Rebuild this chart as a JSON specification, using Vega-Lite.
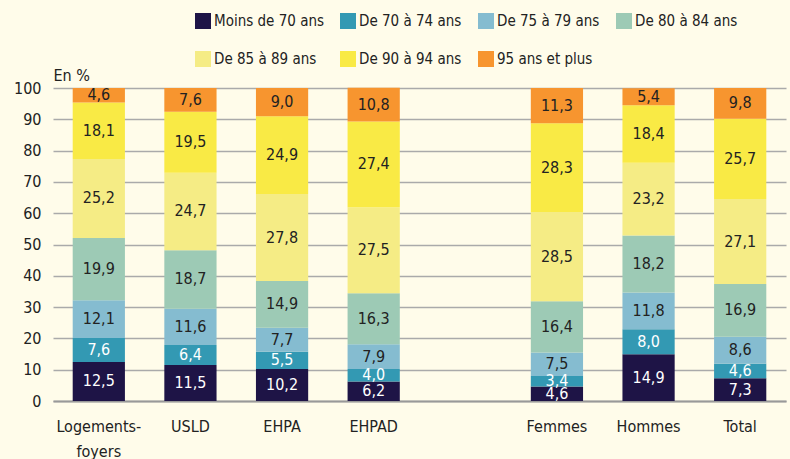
{
 "$schema": "https://vega.github.io/schema/vega-lite/v6.json",
 "width": 733, "height": 313,
 "autosize": {"type": "none"},
 "padding": {"left": 53, "top": 88, "right": 4, "bottom": 58},
 "background": "#FFFCEA",
 "config": {"view": {"stroke": null}, "font": "DejaVu Sans Condensed, Liberation Sans, sans-serif",
   "locale": {"number": {"decimal": ",", "thousands": " ", "grouping": [3], "currency": ["", " €"]}},
   "axisY": {"title": "En %", "titleAngle": 0, "titleX": 0, "titleY": -8, "titleAlign": "left", "titleBaseline": "alphabetic", "titleFontSize": 16, "titleFontWeight": "normal", "titleColor": "#222",
       "values": [0, 10, 20, 30, 40, 50, 60, 70, 80, 90, 100], "format": "d", "labelFontSize": 16, "labelColor": "#222", "labelPadding": 12, "labelOverlap": false, "ticks": false, "domain": false, "gridColor": "#aaaaaa", "gridWidth": 1.5}},
 "data": {"values": [
  {"cat":"Logements-foyers","age":"Moins de 70 ans","o":1,"v":12.5},
  {"cat":"Logements-foyers","age":"De 70 à 74 ans","o":2,"v":7.6},
  {"cat":"Logements-foyers","age":"De 75 à 79 ans","o":3,"v":12.1},
  {"cat":"Logements-foyers","age":"De 80 à 84 ans","o":4,"v":19.9},
  {"cat":"Logements-foyers","age":"De 85 à 89 ans","o":5,"v":25.2},
  {"cat":"Logements-foyers","age":"De 90 à 94 ans","o":6,"v":18.1},
  {"cat":"Logements-foyers","age":"95 ans et plus","o":7,"v":4.6},
  {"cat":"USLD","age":"Moins de 70 ans","o":1,"v":11.5},
  {"cat":"USLD","age":"De 70 à 74 ans","o":2,"v":6.4},
  {"cat":"USLD","age":"De 75 à 79 ans","o":3,"v":11.6},
  {"cat":"USLD","age":"De 80 à 84 ans","o":4,"v":18.7},
  {"cat":"USLD","age":"De 85 à 89 ans","o":5,"v":24.7},
  {"cat":"USLD","age":"De 90 à 94 ans","o":6,"v":19.5},
  {"cat":"USLD","age":"95 ans et plus","o":7,"v":7.6},
  {"cat":"EHPA","age":"Moins de 70 ans","o":1,"v":10.2},
  {"cat":"EHPA","age":"De 70 à 74 ans","o":2,"v":5.5},
  {"cat":"EHPA","age":"De 75 à 79 ans","o":3,"v":7.7},
  {"cat":"EHPA","age":"De 80 à 84 ans","o":4,"v":14.9},
  {"cat":"EHPA","age":"De 85 à 89 ans","o":5,"v":27.8},
  {"cat":"EHPA","age":"De 90 à 94 ans","o":6,"v":24.9},
  {"cat":"EHPA","age":"95 ans et plus","o":7,"v":9.0},
  {"cat":"EHPAD","age":"Moins de 70 ans","o":1,"v":6.2},
  {"cat":"EHPAD","age":"De 70 à 74 ans","o":2,"v":4.0},
  {"cat":"EHPAD","age":"De 75 à 79 ans","o":3,"v":7.9},
  {"cat":"EHPAD","age":"De 80 à 84 ans","o":4,"v":16.3},
  {"cat":"EHPAD","age":"De 85 à 89 ans","o":5,"v":27.5},
  {"cat":"EHPAD","age":"De 90 à 94 ans","o":6,"v":27.4},
  {"cat":"EHPAD","age":"95 ans et plus","o":7,"v":10.8},
  {"cat":"Femmes","age":"Moins de 70 ans","o":1,"v":4.6},
  {"cat":"Femmes","age":"De 70 à 74 ans","o":2,"v":3.4},
  {"cat":"Femmes","age":"De 75 à 79 ans","o":3,"v":7.5},
  {"cat":"Femmes","age":"De 80 à 84 ans","o":4,"v":16.4},
  {"cat":"Femmes","age":"De 85 à 89 ans","o":5,"v":28.5},
  {"cat":"Femmes","age":"De 90 à 94 ans","o":6,"v":28.3},
  {"cat":"Femmes","age":"95 ans et plus","o":7,"v":11.3},
  {"cat":"Hommes","age":"Moins de 70 ans","o":1,"v":14.9},
  {"cat":"Hommes","age":"De 70 à 74 ans","o":2,"v":8.0},
  {"cat":"Hommes","age":"De 75 à 79 ans","o":3,"v":11.8},
  {"cat":"Hommes","age":"De 80 à 84 ans","o":4,"v":18.2},
  {"cat":"Hommes","age":"De 85 à 89 ans","o":5,"v":23.2},
  {"cat":"Hommes","age":"De 90 à 94 ans","o":6,"v":18.4},
  {"cat":"Hommes","age":"95 ans et plus","o":7,"v":5.4},
  {"cat":"Total","age":"Moins de 70 ans","o":1,"v":7.3},
  {"cat":"Total","age":"De 70 à 74 ans","o":2,"v":4.6},
  {"cat":"Total","age":"De 75 à 79 ans","o":3,"v":8.6},
  {"cat":"Total","age":"De 80 à 84 ans","o":4,"v":16.9},
  {"cat":"Total","age":"De 85 à 89 ans","o":5,"v":27.1},
  {"cat":"Total","age":"De 90 à 94 ans","o":6,"v":25.7},
  {"cat":"Total","age":"95 ans et plus","o":7,"v":9.8}
 ]},
 "transform": [
  {"stack": "v", "groupby": ["cat"], "sort": [{"field": "o"}], "as": ["y0", "y1"]},
  {"calculate": "(datum.y0 + datum.y1) / 2", "as": "ym"}
 ],
 "encoding": {
  "x": {"field": "cat", "type": "nominal",
   "scale": {"domain": ["Logements-foyers", "USLD", "EHPA", "EHPAD", " ", "Femmes", "Hommes", "Total"], "paddingInner": 0.43, "paddingOuter": 0.215},
   "axis": {"title": null, "labelAngle": 0, "labelFontSize": 16, "labelColor": "#222", "ticks": false, "domainColor": "#999", "domainWidth": 2, "labelPadding": 17, "labelLineHeight": 25,
     "labelExpr": "datum.label == 'Logements-foyers' ? ['Logements-', 'foyers'] : datum.label"}}
 },
 "layer": [
  {"mark": {"type": "bar"},
   "encoding": {
    "y": {"field": "y0", "type": "quantitative", "scale": {"domain": [0, 100], "nice": false}, "title": "En %"},
    "y2": {"field": "y1"},
    "color": {"field": "age", "type": "nominal",
     "scale": {"domain": ["Moins de 70 ans", "De 70 à 74 ans", "De 75 à 79 ans", "De 80 à 84 ans", "De 85 à 89 ans", "De 90 à 94 ans", "95 ans et plus"],
       "range": ["#1E1446", "#3399B3", "#85BCD0", "#9DCAB5", "#F5EC85", "#F9EA45", "#F7952F"]},
     "legend": {"title": null, "orient": "none", "direction": "horizontal", "legendX": 142, "legendY": -75, "columns": 4, "symbolType": "square", "symbolSize": 256, "symbolStrokeWidth": 0, "labelFontSize": 15, "labelColor": "#222", "columnPadding": 16, "rowPadding": 22, "labelOffset": 3}}
   }},
  {"mark": {"type": "text", "fontSize": 16},
   "encoding": {
    "y": {"field": "ym", "type": "quantitative", "title": "En %"},
    "text": {"field": "v", "type": "quantitative", "format": ".1f"},
    "color": {"condition": {"test": "datum.o <= 2", "value": "#ffffff"}, "value": "#222222"}
   }}
 ]
}
